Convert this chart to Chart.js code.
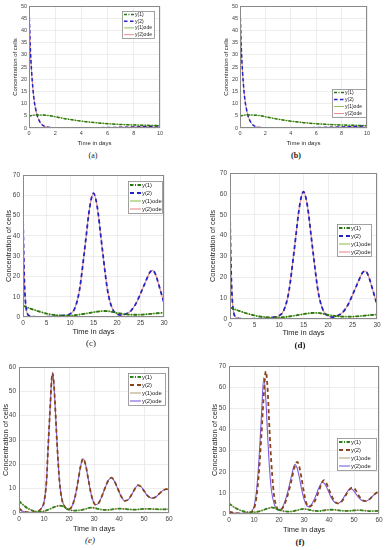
<!DOCTYPE html>
<html><head><meta charset="utf-8">
<script src="https://cdn.jsdelivr.net/npm/chart.js@4.4.1/dist/chart.umd.min.js"></script>
<style>
body{margin:0;background:#fff;width:386px;height:550px;position:relative;overflow:hidden}
.cap{position:absolute;font-family:"Liberation Serif","Times New Roman",serif;color:#222;transform:translate(-50%,-50%);white-space:nowrap}
</style></head><body>
<script>
// ---------- data ----------
// panels (a),(b): 0..10 days
const daysA = [0,0.1,0.2,0.3,0.4,0.5,0.6,0.8,1,1.3,1.6,2,3,4,5,6,7,8,9,10];
const y1A   = [4.9,5.05,5.15,5.22,5.28,5.3,5.32,5.33,5.3,5.2,5.05,4.6,3.6,2.8,2.2,1.75,1.45,1.25,1.1,1.0];
const y2A   = [50,33,23,16,11,8,5.5,2.8,1.3,0.5,0.2,0.1,0.08,0.1,0.12,0.18,0.28,0.42,0.6,0.9];
// panels (c),(d): 0..30 days
const daysC = [0,0.2,0.4,0.6,0.8,1,1.5,2,3,4,5,6,7,8,9,10,11,12,13,13.5,14,14.5,15,15.5,16,16.5,17,18,19,20,21,22,23,24,25,26,27,27.5,28,28.5,29,29.5,30];
const y1C   = [5.5,5.4,5.2,5.0,4.8,4.6,4.2,3.8,3.0,2.3,1.7,1.25,0.95,0.75,0.7,0.75,0.9,1.2,1.55,1.75,1.95,2.15,2.35,2.55,2.7,2.85,2.95,2.9,2.5,2.0,1.6,1.3,1.15,1.1,1.15,1.3,1.5,1.6,1.75,1.85,1.95,2.05,2.15];
const y2C   = [50,25,12,5.5,2.6,1.3,0.45,0.2,0.1,0.1,0.12,0.2,0.35,0.6,0.9,1.5,4.2,13,31,41,51,58,61,58,51,41,31,13,4.2,1.5,0.9,1.6,3.2,6.5,11.5,17,22,23,22,19,15,11,7];
// panel (e): 0..60 days
const daysE  = [0,1,2,4,6,8,9,10,11,11.6,12.5,13,13.4,13.8,14.3,15.2,16.2,17.2,18.3,19.5,20.5,21.5,22.5,23.6,24.6,25.6,26.6,27.7,28.8,29.8,30.6,31.8,33,34.5,35.8,37,38.2,39.5,40.8,42.3,43.8,45.2,46.5,47.6,48.8,50.2,51.6,53,54.5,56,57.5,59,60];
const y2E    = [2.0,1.0,0.5,0.25,0.3,0.9,2.0,4.5,13,26,44,54,57.5,55,47,29,13,5.5,2.6,1.5,1.8,3.5,7,13,19,22.3,20,14,8,4.5,3.4,4,6.5,10.5,13.5,14.5,13,10,7,5,5.6,7.8,10.2,11.4,10.8,8.8,6.9,6.1,6.5,7.8,9.2,9.8,9.5];
const daysE1 = [0,2,4,6,8,10,12,14,16,17,18,19,20,22,24,26,28,29,30,32,34,36,38,40,42,44,46,48,50,52,54,56,58,60];
const y1E    = [5,3,1.6,0.8,0.5,0.7,1.5,2.4,3.0,2.9,2.5,1.8,1.3,1.0,1.1,1.5,2.1,2.2,2.1,1.6,1.3,1.3,1.6,1.8,1.7,1.5,1.4,1.5,1.7,1.7,1.6,1.5,1.5,1.6];
// panel (f): 0..60 days
const daysF  = [0,2,4,6,8,9,10,11,12,13,14,14.7,15.4,16,16.5,17.3,18,19,19.8,21,22,23.5,25,26.3,27.3,28.2,29,30,31,31.8,33,34.5,36,37.2,38,39,40,41.5,43,44,45.5,47,48.5,49.6,50.8,52,53.5,54.8,56,57.5,59,60];
const y2F    = [1.1,0.5,0.3,0.3,0.5,1,2.5,8,20,38,58,67.5,60,45,33,18,9,3.5,1.9,2.2,4,9,16,22.5,24.7,22,17,10,5,3.5,4,6.5,11,15,16,14.5,11.5,7.5,5.2,5,6.5,9.5,12,12.5,11,8.5,6.5,6.1,6.8,8.5,10,10.5];
const daysF2 = [0,2,4,6,8,9,10,11,12,13,13.9,14.7,15.5,16.3,17,18,19,19.8,21,22,23.5,25,26.3,27.3,28.2,29,30,31,31.8,33,34.5,36,37.4,38.4,39.5,41,42.5,43.6,45,46.5,48,49,50.2,51.5,53,54.5,56,57.5,59,60];
const y2odeF = [1.1,0.5,0.3,0.3,0.6,1.2,3.5,11,26,47,64.5,55,36,20,11,5,2.3,1.8,2.5,4.8,10.5,18,23.5,21.5,17,12,7,4.2,3.5,4.5,8,12.5,15,14,11.5,7.5,5.3,5,6.2,9,11.5,11.8,10.5,8.3,6.5,6,6.8,8.5,10,10.4];
const daysF1 = [0,2,4,6,8,10,12,14,16,17,18,20,22,24,26,28,30,32,34,36,38,40,42,44,46,48,50,52,54,56,58,60];
const y1F    = [5,3.3,2,1.2,0.8,0.8,1.2,2,2.8,3.1,2.9,2.0,1.3,1.1,1.4,2.0,2.4,2.0,1.5,1.4,1.7,2.0,2.0,1.7,1.5,1.5,1.7,1.8,1.6,1.4,1.4,1.5];
// tick labels
const xTicks10 = [0,2,4,6,8,10];
const yTicks50 = [0,5,10,15,20,25,30,35,40,45,50];
const xTicks30 = [0,5,10,15,20,25,30];
const yTicks70 = [0,10,20,30,40,50,60,70];
const xTicks60 = [0,10,20,30,40,50,60];
const yTicks60 = [0,10,20,30,40,50,60];
const seriesNames = ['y(1)','y(2)','y(1)ode','y(2)ode'];
const xTitle = 'Time in days';
const yTitle = 'Concentration of cells';
const captions = ['(a)','(b)','(c)','(d)','(e)','(f)'];

// ---------- drawing ----------
const FONT = '"Liberation Sans", Arial, Helvetica, sans-serif';
const pts = (t, v) => t.map((x, i) => ({x, y: v[i]}));

const boxLegend = {
  id: 'boxLegend',
  afterDraw(chart, args, o) {
    const ctx = chart.ctx, a = chart.chartArea;
    ctx.save();
    ctx.strokeStyle = '#8a8a8a'; ctx.lineWidth = 1; ctx.setLineDash([]);
    ctx.strokeRect(Math.round(a.left) + 0.5, Math.round(a.top) + 0.5, Math.round(a.right - a.left) - 1, Math.round(a.bottom - a.top) - 1);
    if (o.rect) {
      const [x, y, w, h] = o.rect;
      ctx.fillStyle = '#fff'; ctx.fillRect(x, y, w, h);
      ctx.strokeStyle = '#8a8a8a'; ctx.lineWidth = 0.8; ctx.strokeRect(x + 0.5, y + 0.5, w, h);
      const ds = chart.data.datasets, rowH = h / ds.length;
      ctx.font = o.size + 'px ' + FONT; ctx.textBaseline = 'middle';
      ds.forEach((d, i) => {
        const cy = y + rowH * (i + 0.5);
        ctx.beginPath(); ctx.setLineDash(d.borderDash || []);
        ctx.strokeStyle = d.borderColor; ctx.lineWidth = d.borderWidth;
        ctx.moveTo(x + 2, cy); ctx.lineTo(x + o.lineLen, cy); ctx.stroke();
        ctx.setLineDash([]); ctx.fillStyle = '#222';
        ctx.fillText(d.label, x + o.lineLen + 1, cy);
      });
    }
    ctx.restore();
  }
};

function makePanel(p) {
  const cv = document.createElement('canvas');
  cv.width = p.w; cv.height = p.h;
  cv.style.cssText = `position:absolute;left:${p.x}px;top:${p.y}px;width:${p.w}px;height:${p.h}px`;
  document.body.appendChild(cv);
  const lh = p.titleSize * 1.2;
  const pl = p.plot[0] - p.x, pt = p.plot[1] - p.y, pr = p.plot[2] - p.x, pb = p.plot[3] - p.y;
  const padL = p.yTitleX - p.x - lh / 2;
  const padB = p.y + p.h - p.xTitleY - lh / 2;
  const yW = pl - padL, xH = p.h - padB - pb;
  const c = p.colors, s = p.data;
  const datasets = [
    {label: seriesNames[0], data: pts(s.t1, s.y1), borderColor: c[0], borderWidth: p.lw, borderDash: p.dash1, order: 0},
    {label: seriesNames[1], data: pts(s.t2, s.y2), borderColor: c[1], borderWidth: p.lw, borderDash: p.dash2, order: 0},
    {label: seriesNames[2], data: pts(s.t1, s.y1), borderColor: c[2], borderWidth: p.lwOde, order: 1},
    {label: seriesNames[3], data: pts(s.t3, s.y3), borderColor: c[3], borderWidth: p.lwOde, order: 1}
  ].map(d => Object.assign(d, {pointRadius: 0, fill: false, cubicInterpolationMode: 'monotone', borderCapStyle: 'butt'}));
  const lr = p.legend;
  new Chart(cv, {
    type: 'line',
    data: {datasets},
    plugins: [boxLegend],
    options: {
      responsive: false, animation: false, events: [],
      layout: {padding: {left: padL, top: pt, right: p.w - pr, bottom: padB}},
      plugins: {
        legend: {display: false}, tooltip: {enabled: false},
        boxLegend: {rect: [lr[0] - p.x, lr[1] - p.y, lr[2], lr[3]], size: p.legendSize, lineLen: p.lineLen}
      },
      scales: {
        x: {
          type: 'linear', min: 0, max: p.xTicks[p.xTicks.length - 1],
          afterBuildTicks: sc => { sc.ticks = p.xTicks.map(v => ({value: v})); },
          afterFit: sc => { sc.height = xH; },
          grid: {color: '#e8e8e8', lineWidth: 0.8, drawTicks: false},
          border: {display: false},
          ticks: {autoSkip: false, maxRotation: 0, minRotation: 0, padding: p.tickPadX, color: '#444', font: {family: FONT, size: p.tickSize}},
          title: {display: true, text: xTitle, color: '#262626', padding: 0, font: {family: FONT, size: p.titleSize}}
        },
        y: {
          type: 'linear', min: 0, max: p.yTicks[p.yTicks.length - 1],
          afterBuildTicks: sc => { sc.ticks = p.yTicks.map(v => ({value: v})); },
          afterFit: sc => { sc.width = yW; },
          grid: {color: '#e8e8e8', lineWidth: 0.8, drawTicks: false},
          border: {display: false},
          ticks: {autoSkip: false, padding: p.tickPadY, color: '#444', font: {family: FONT, size: p.tickSize}},
          title: {display: true, text: yTitle, color: '#262626', padding: 0, font: {family: FONT, size: p.titleSize}}
        }
      }
    }
  });
}

const colBlue = ['#2a7512', '#2424c4', '#93bf5a', '#e58f8f'];
const colOrange = ['#2c8418', '#8a4418', '#b9a57a', '#7d5ce0'];
const small = {tickSize: 5.5, titleSize: 6, legendSize: 5, lineLen: 12, lw: 1.5, lwOde: 1, dash1: [3, 1.5, 1, 1.5], dash2: [3.5, 2.5], tickPadX: 2, tickPadY: 2};
const mid = {tickSize: 6.5, titleSize: 7.5, legendSize: 5.8, lineLen: 13, lw: 1.8, lwOde: 1.1, dash1: [3.5, 1.5, 1, 1.5], dash2: [4, 3], tickPadX: 2.5, tickPadY: 3};

const dataA = {t1: daysA, y1: y1A, t2: daysA, y2: y2A, t3: daysA, y3: y2A};
const dataC = {t1: daysC, y1: y1C, t2: daysC, y2: y2C, t3: daysC, y3: y2C};
const dataE = {t1: daysE1, y1: y1E, t2: daysE, y2: y2E, t3: daysE, y3: y2E};
const dataF = {t1: daysF1, y1: y1F, t2: daysF, y2: y2F, t3: daysF2, y3: y2odeF};

makePanel(Object.assign({}, small, {x: 0, y: 0, w: 193, h: 150, plot: [29, 6, 160, 128], yTitleX: 15, xTitleY: 143,
  xTicks: xTicks10, yTicks: yTicks50, legend: [122, 11, 32, 27], colors: colBlue, data: dataA}));
makePanel(Object.assign({}, small, {x: 193, y: 0, w: 193, h: 150, plot: [240, 6, 367, 128], yTitleX: 226, xTitleY: 143,
  xTicks: xTicks10, yTicks: yTicks50, legend: [332, 89, 34, 28], colors: colBlue, data: dataA}));
makePanel(Object.assign({}, mid, {x: 0, y: 160, w: 193, h: 180, plot: [23, 175, 164, 317], yTitleX: 8.5, xTitleY: 332,
  xTicks: xTicks30, yTicks: yTicks70, legend: [128, 181, 34, 32], colors: colBlue, data: dataC}));
makePanel(Object.assign({}, mid, {x: 193, y: 160, w: 193, h: 180, plot: [230, 173, 377, 319], yTitleX: 213, xTitleY: 333,
  xTicks: xTicks30, yTicks: yTicks70, legend: [337, 224, 34, 32], colors: colBlue, data: dataC}));
makePanel(Object.assign({}, mid, {x: 0, y: 355, w: 193, h: 180, plot: [19, 367, 169, 513], yTitleX: 5.5, xTitleY: 529,
  xTicks: xTicks60, yTicks: yTicks60, legend: [128, 373, 37, 32], colors: colOrange, data: dataE}));
makePanel(Object.assign({}, mid, {x: 193, y: 355, w: 193, h: 180, plot: [229, 366, 379, 514], yTitleX: 215, xTitleY: 530,
  xTicks: xTicks60, yTicks: yTicks70, legend: [337, 438, 39, 32], colors: colOrange, data: dataF}));

const capPos = [[93, 155, 8, 'normal', 'normal'], [296, 155, 8, 'bold', 'normal'], [91, 343, 9, 'normal', 'normal'],
                [300, 345, 9, 'bold', 'normal'], [90, 540, 9, 'normal', 'italic'], [300, 542, 9, 'bold', 'normal']];
captions.forEach((t, i) => {
  const d = document.createElement('div'); d.className = 'cap'; d.textContent = t;
  const [x, y, fs, fw, st] = capPos[i];
  d.style.left = x + 'px'; d.style.top = y + 'px'; d.style.fontSize = fs + 'px'; d.style.fontWeight = fw; d.style.fontStyle = st;
  document.body.appendChild(d);
});
</script>
</body></html>
